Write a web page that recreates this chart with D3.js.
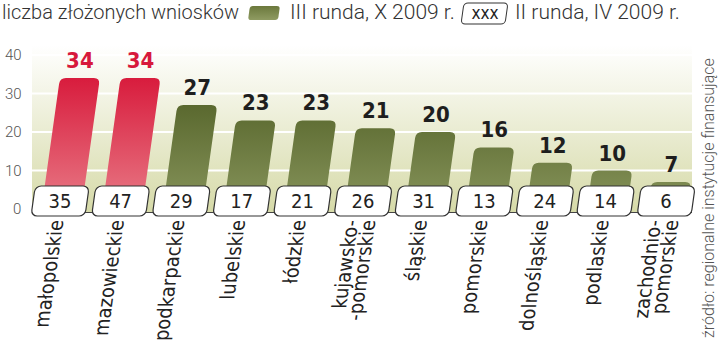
<!DOCTYPE html>
<html><head><meta charset="utf-8">
<script src="https://cdn.jsdelivr.net/npm/d3@7/dist/d3.min.js"></script>
<style>
html,body{margin:0;padding:0;background:#fff;}
svg{display:block;}
</style></head>
<body>
<svg id="chart" width="720" height="345"></svg>
<script>
const categories = ["małopolskie","mazowieckie","podkarpackie","lubelskie","łódzkie","kujawsko-\n-pomorskie","śląskie","pomorskie","dolnośląskie","podlaskie","zachodnio-\npomorskie"];
const round3 = [34,34,27,23,23,21,20,16,12,10,7];
const round2 = [35,47,29,17,21,26,31,13,24,14,6];
const highlighted = [true,true,false,false,false,false,false,false,false,false,false];
const yTicks = [0,10,20,30,40];
const titleText = "liczba złożonych wniosków";
const legend3 = "III runda, X 2009 r.";
const legend2 = "II runda, IV 2009 r.";
const legendBoxText = "xxx";
const sourceText = "źródło: regionalne instytucje finansujące";

const svg = d3.select("#chart");
const base = 209;
const skewA = -8;
const x = d3.scaleBand().domain(d3.range(categories.length)).range([28.7, 695.3]).padding(0);
const y = d3.scaleLinear().domain([0,40]).range([base, 55]);
const k = Math.tan(-skewA*Math.PI/180);

const defs = svg.append("defs");
const bg = defs.append("linearGradient").attr("id","bg").attr("x1",0).attr("y1",0).attr("x2",0).attr("y2",1);
bg.append("stop").attr("offset","0%").attr("stop-color","#ffffff");
bg.append("stop").attr("offset","100%").attr("stop-color","#d6daa8");
const gr = defs.append("linearGradient").attr("id","red").attr("gradientUnits","userSpaceOnUse").attr("x1",0).attr("y1",-(base-y(34))).attr("x2",0).attr("y2",0);
gr.append("stop").attr("offset","0%").attr("stop-color","#d81c3d");
gr.append("stop").attr("offset","100%").attr("stop-color","#e87a86");
const go = defs.append("linearGradient").attr("id","olive").attr("gradientUnits","userSpaceOnUse").attr("x1",0).attr("y1",-(base-y(30))).attr("x2",0).attr("y2",0);
go.append("stop").attr("offset","0%").attr("stop-color","#55642a");
go.append("stop").attr("offset","100%").attr("stop-color","#87945b");
const gl = defs.append("linearGradient").attr("id","legol").attr("x1",0).attr("y1",0).attr("x2",0).attr("y2",1);
gl.append("stop").attr("offset","0%").attr("stop-color","#6b783c");
gl.append("stop").attr("offset","100%").attr("stop-color","#8f9b62");

// background
svg.append("rect").attr("x",32).attr("y",45).attr("width",660).attr("height",base+3-45).attr("fill","url(#bg)");
// gridlines
svg.append("g").selectAll("line").data(yTicks.filter(d=>d>0)).join("line")
  .attr("x1",32).attr("x2",692).attr("y1",d=>y(d)).attr("y2",d=>y(d))
  .attr("stroke","#fff").attr("stroke-width",2);
// baseline
svg.append("line").attr("x1",32).attr("x2",692).attr("y1",base+3.5).attr("y2",base+3.5).attr("stroke","#444").attr("stroke-width",1.2);

// y tick labels
svg.append("g").selectAll("text").data(yTicks).join("text")
  .attr("x",d=>d===0?13:5).attr("y",d=>y(d)).attr("dy","0.36em")
  .attr("font-family","Roboto").attr("font-weight",300).attr("font-size",15).attr("fill","#555")
  .text(d=>d);

function barPath(w,h,r){
  const x0=-w/2,x1=w/2;
  return `M${x0},0 L${x0},${-h+r} Q${x0},${-h} ${x0+r},${-h} L${x1-r},${-h} Q${x1},${-h} ${x1},${-h+r} L${x1},0 Z`;
}
// bars
const bw = 40;
svg.append("g").selectAll("path").data(round3).join("path")
  .attr("transform",(d,i)=>`translate(${x(i)+x.bandwidth()/2+2.5},${base}) skewX(${skewA})`)
  .attr("d",d=>barPath(bw, base-y(d), 6))
  .attr("fill",(d,i)=>highlighted[i]?"url(#red)":"url(#olive)");

// value labels
svg.append("g").selectAll("text").data(round3).join("text")
  .attr("x",(d,i)=>x(i)+x.bandwidth()/2+2.5+(base-y(d))*k)
  .attr("y",d=>y(d)-10)
  .attr("text-anchor","middle")
  .attr("font-family","DejaVu Sans Condensed").attr("font-weight","bold").attr("font-size",22)
  .attr("fill",(d,i)=>highlighted[i]?"#d7193c":"#1e1e1e")
  .text(d=>d);

// boxes with round2 values
const bx = svg.append("g").selectAll("g").data(round2).join("g")
  .attr("transform",(d,i)=>`translate(${x(i)+x.bandwidth()/2},${base}) skewX(${skewA})`);
bx.append("rect").attr("x",-27).attr("y",-23).attr("width",54).attr("height",30).attr("rx",6)
  .attr("fill","#fff").attr("stroke","#333").attr("stroke-width",1.2);
svg.append("g").selectAll("text").data(round2).join("text")
  .attr("x",(d,i)=>x(i)+x.bandwidth()/2+1)
  .attr("y",base-8).attr("dy","0.36em").attr("text-anchor","middle")
  .attr("font-family","DejaVu Sans Condensed").attr("font-size",20).attr("fill","#222")
  .text(d=>d);

// category labels
const cg = svg.append("g").selectAll("g").data(categories).join("g")
  .attr("transform",(d,i)=>`translate(${x(i)+x.bandwidth()/2},${base}) skewX(${skewA})`);
cg.each(function(d){
  const lines = d.split("\n");
  const g = d3.select(this);
  lines.forEach((ln,j)=>{
    const off = lines.length===1 ? -1 : (j===0?-9:8);
    g.append("text").attr("transform",`translate(${off},11) rotate(-90)`)
      .attr("text-anchor","end").attr("dy","0.35em")
      .attr("font-family","DejaVu Sans Condensed").attr("font-size",20).attr("fill","#222")
      .text(ln);
  });
});

// title & legend
svg.append("text").attr("x",2).attr("y",19).attr("font-family","Roboto").attr("font-weight",300)
  .attr("font-size",20).attr("fill","#333").text(titleText);
svg.append("rect").attr("x",0).attr("y",-14).attr("width",30).attr("height",14).attr("rx",3)
  .attr("transform",`translate(248,20) skewX(${skewA})`).attr("fill","url(#legol)");
svg.append("text").attr("x",290).attr("y",19).attr("font-family","Roboto").attr("font-weight",300)
  .attr("font-size",21).attr("fill","#333").text(legend3);
svg.append("rect").attr("x",0).attr("y",-21).attr("width",44).attr("height",21).attr("rx",4)
  .attr("transform",`translate(461,24) skewX(${skewA})`).attr("fill","#fff").attr("stroke","#333").attr("stroke-width",1);
svg.append("text").attr("x",485).attr("y",19).attr("text-anchor","middle").attr("font-family","DejaVu Sans Condensed")
  .attr("font-size",17).attr("fill","#222").text(legendBoxText);
svg.append("text").attr("x",515).attr("y",19).attr("font-family","Roboto").attr("font-weight",300)
  .attr("font-size",21).attr("fill","#333").text(legend2);

// source
svg.append("text").attr("transform","translate(714,338) rotate(-90)")
  .attr("font-family","Roboto").attr("font-weight",300).attr("font-size",16).attr("fill","#555")
  .text(sourceText);
</script>
</body></html>
